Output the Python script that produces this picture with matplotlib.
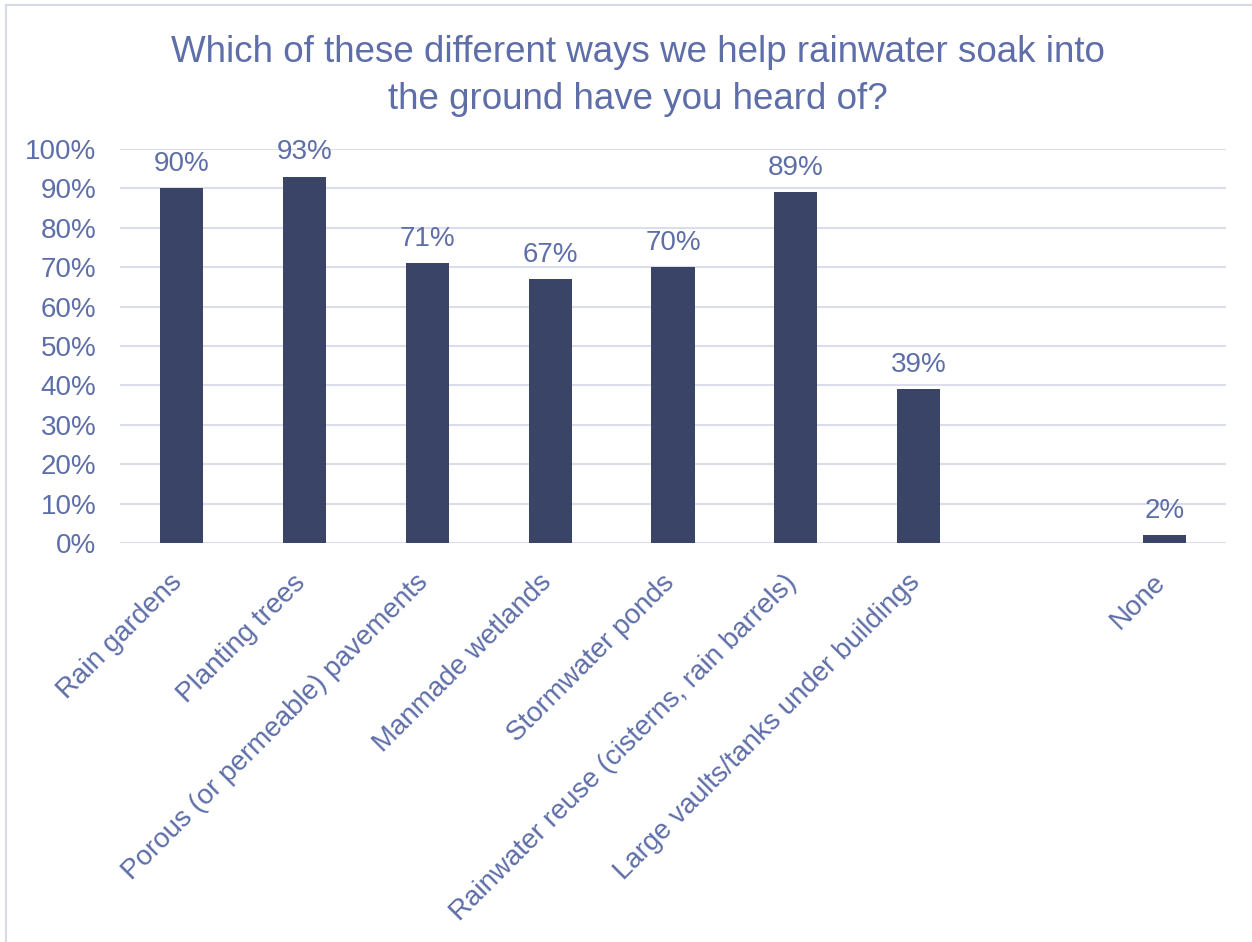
import matplotlib
matplotlib.use("Agg")
import matplotlib.pyplot as plt
from matplotlib.lines import Line2D
from matplotlib.transforms import ScaledTranslation

plt.rcParams['font.family'] = ['Liberation Sans', 'DejaVu Sans']

categories = [
    "Rain gardens",
    "Planting trees",
    "Porous (or permeable) pavements",
    "Manmade wetlands",
    "Stormwater ponds",
    "Rainwater reuse (cisterns, rain barrels)",
    "Large vaults/tanks under buildings",
    "",
    "None",
]
values = [90, 93, 71, 67, 70, 89, 39, None, 2]
y_ticks = [0, 10, 20, 30, 40, 50, 60, 70, 80, 90, 100]
title = "Which of these different ways we help rainwater soak into\nthe ground have you heard of?"

bar_color = "#3A4466"
text_color = "#5E6EA8"
grid_color = "#DCDDEB"
frame_color = "#D8D9E8"

W, H = 1252, 942
fig = plt.figure(figsize=(W / 100, H / 100), dpi=100)
fig.patch.set_facecolor("white")

# chart-area frame (top and left edges)
fig.add_artist(Line2D([6 / W, 6 / W], [0, 1 - 5 / H], color=frame_color, lw=1.5))
fig.add_artist(Line2D([6 / W, 1], [1 - 5 / H, 1 - 5 / H], color=frame_color, lw=1.5))

ax = fig.add_axes([120 / W, 399 / H, 1106 / W, 394 / H])
x = list(range(len(categories)))
heights = [v if v is not None else 0 for v in values]
ax.bar(x, heights, width=0.35, color=bar_color, zorder=3)

for xi, v in zip(x, values):
    if v is None:
        continue
    ax.annotate(f"{v}%", (xi, v), xytext=(0, 8), textcoords="offset points",
                ha="center", va="bottom", fontsize=20, color=text_color)

ax.set_xlim(-0.5, len(categories) - 0.5)
ax.set_ylim(0, 100)
ax.set_yticks(y_ticks)
ax.set_yticklabels([f"{t}%" for t in y_ticks])
ax.set_xticks(x)
ax.set_xticklabels(categories, rotation=45, ha="right", rotation_mode="anchor")

ax.tick_params(axis="y", length=0, pad=17, labelsize=20, labelcolor=text_color)
ax.tick_params(axis="x", length=0, pad=19, labelsize=20, labelcolor=text_color)
shift = ScaledTranslation(-0.12, 0, fig.dpi_scale_trans)
for lbl in ax.get_xticklabels():
    lbl.set_transform(lbl.get_transform() + shift)

ax.yaxis.grid(True, color=grid_color, lw=1.5, zorder=0)
ax.set_axisbelow(True)
for s in ax.spines.values():
    s.set_visible(False)

fig.text(638 / W, 1 - 76 / H, title, ha="center", va="center",
         fontsize=26.5, color=text_color, linespacing=1.45)

fig.savefig("out.png", dpi=100)
